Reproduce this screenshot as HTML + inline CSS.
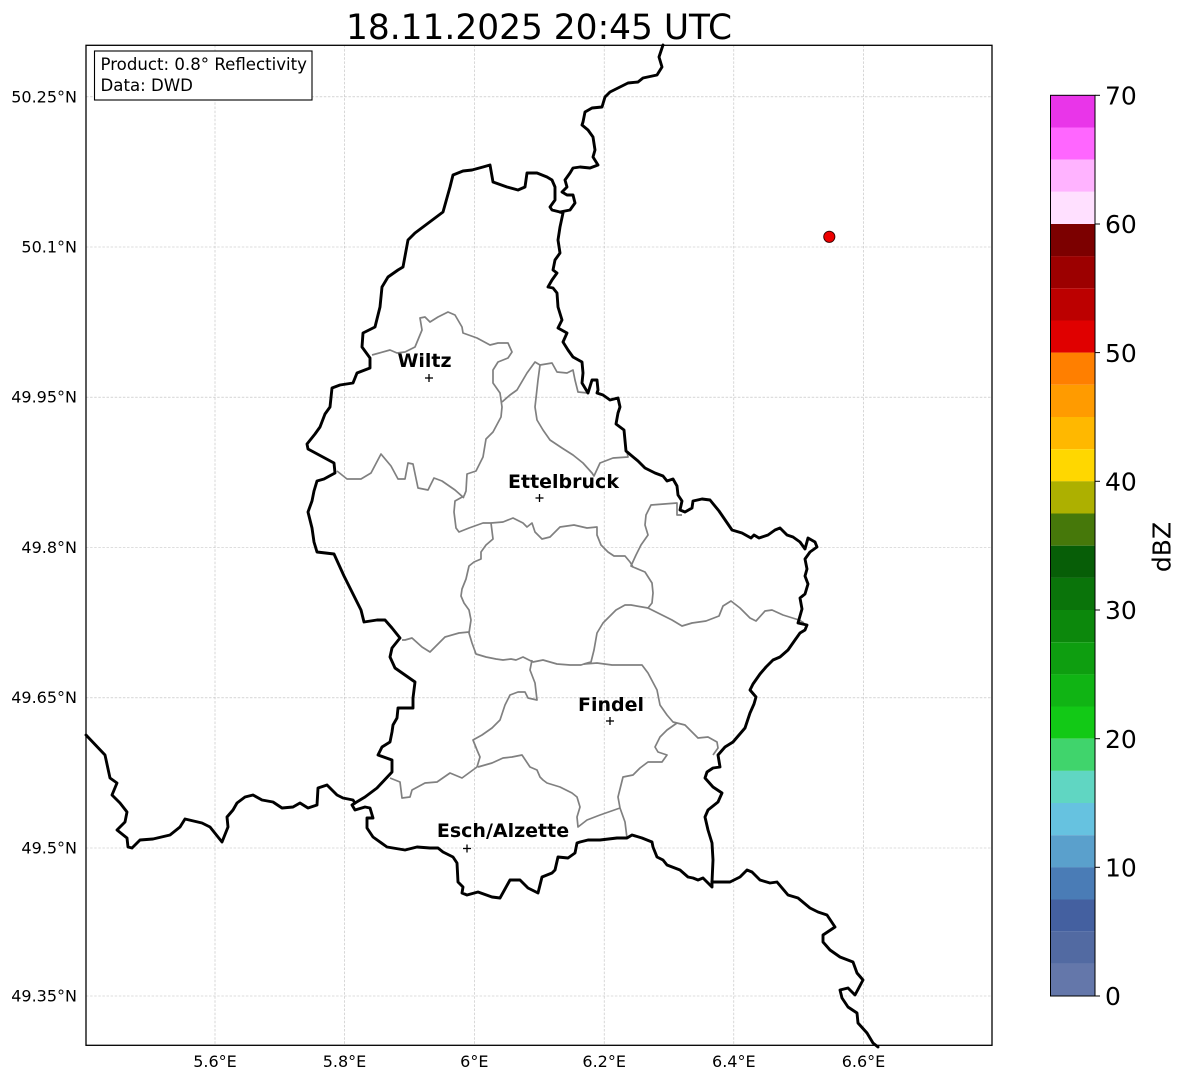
<!DOCTYPE html>
<html><head><meta charset="utf-8"><style>
html,body{margin:0;padding:0;background:#fff;}
svg{display:block;font-family:"DejaVu Sans","Liberation Sans",sans-serif;}
</style></head><body>
<svg width="1184" height="1081" viewBox="0 0 1184 1081" xmlns="http://www.w3.org/2000/svg">
<rect x="0" y="0" width="1184" height="1081" fill="#fff"/>
<!-- title -->
<text x="539" y="39" font-size="34.4" text-anchor="middle" fill="#000">18.11.2025 20:45 UTC</text>

<!-- gridlines -->
<g stroke="#bdbdbd" stroke-width="0.6" stroke-dasharray="2.5,1.6" fill="none">
<line x1="215" y1="45" x2="215" y2="1045"/>
<line x1="344.5" y1="45" x2="344.5" y2="1045"/>
<line x1="474.3" y1="45" x2="474.3" y2="1045"/>
<line x1="604.2" y1="45" x2="604.2" y2="1045"/>
<line x1="733.8" y1="45" x2="733.8" y2="1045"/>
<line x1="863.5" y1="45" x2="863.5" y2="1045"/>
<line x1="86" y1="96.8" x2="992" y2="96.8"/>
<line x1="86" y1="247" x2="992" y2="247"/>
<line x1="86" y1="397.2" x2="992" y2="397.2"/>
<line x1="86" y1="547.5" x2="992" y2="547.5"/>
<line x1="86" y1="697.8" x2="992" y2="697.8"/>
<line x1="86" y1="848" x2="992" y2="848"/>
<line x1="86" y1="996" x2="992" y2="996"/>
</g>

<!-- gray canton borders -->
<g stroke="#808080" stroke-width="1.7" fill="none" stroke-linejoin="round">
<path d="M372,355 L390,350 L397,353 L405,352 L415,347 L422,330 L420,318 L425,317 L430,322 L438,317 L448,312 L455,315 L462,327 L463,333 L477,338 L490,345 L498,343 L508,343 L512,352 L508,358 L498,362 L493,370 L493,383 L500,393 L502,407 L501,417 L493,432 L486,439 L483,457 L476,471 L467,474 L466,491 L464,496 L455,501 L454,512 L456,528 L459,532 L469,528 L483,523 L491,523 L503,522 L513,518 L523,523 L527,527 L532,523 L535,532 L542,539 L550,537 L560,527 L574,525 L587,528 L597,527 L597,535 L601,545 L608,552 L614,556 L625,556 L630,562 L633,567 L645,572 L652,583 L653,593 L652,603 L648,608 L652,610 L672,620 L682,626 L692,623 L706,621 L719,616 L723,606 L731,601 L740,608 L750,618 L756,621 L765,611 L772,610 L783,615 L799,620 L804,623"/>
<path d="M337,471 L347,479 L361,479 L371,473 L381,454 L391,466 L398,479 L405,479 L408,463 L413,464 L418,488 L428,490 L434,478 L442,481 L455,490 L464,498"/>
<path d="M502,402 L510,395 L517,390 L527,373 L535,362 L540,365 L552,363 L557,372 L567,373 L573,370 L575,380 L578,392 L588,393"/>
<path d="M540,365 L538,380 L535,407 L537,420 L543,430 L550,440 L562,448 L573,455 L583,463 L592,473 L594,476 L600,463 L613,458 L628,457 L627,452"/>
<path d="M682,515 L677,515 L677,503 L651,505 L646,515 L645,525 L648,535 L641,545 L636,555 L631,566 L633,567"/>
<path d="M491,523 L493,539 L486,545 L481,552 L481,559 L474,562 L469,566 L466,579 L462,589 L461,596 L464,603 L469,610 L471,620 L469,633 L472,643 L476,654 L486,657 L496,659 L503,660 L511,659 L516,660 L523,657 L533,662 L543,660 L557,664 L570,665 L581,665 L584,664 L591,662 L594,650 L597,633 L603,623 L608,618 L616,610 L625,605 L631,605 L648,608"/>
<path d="M402,640 L405,640 L412,638 L422,647 L430,652 L439,643 L445,637 L459,633 L469,632"/>
<path d="M532,660 L530,670 L535,683 L537,700 L528,698 L525,692 L518,692 L510,695 L505,705 L500,720 L492,728 L482,735 L473,740 L477,750 L480,757 L477,767 L462,778 L450,773 L437,782 L425,783 L412,790 L410,797 L402,798 L400,782 L390,778"/>
<path d="M584,664 L597,663 L612,665 L642,665 L648,673 L657,690 L660,705 L667,715 L673,722 L677,723 L685,725 L693,733 L698,738 L708,737 L717,742 L718,748 L713,755"/>
<path d="M677,723 L667,730 L660,737 L655,747 L658,752 L667,755 L662,762 L648,762 L640,768 L633,775 L623,777 L618,797 L620,808 L625,822 L627,838"/>
<path d="M620,808 L600,815 L587,820 L578,827 L577,817 L580,807 L577,797 L572,793 L560,787 L547,783 L543,780 L540,777 L537,770 L530,767 L522,755 L512,757 L503,758 L492,763 L478,767"/>
</g>

<!-- black country borders -->
<g stroke="#000" stroke-width="2.9" fill="none" stroke-linejoin="round" stroke-linecap="round">
<path d="M663,45 L659,57 L662,67 L657,75 L643,78 L638,82 L628,83 L620,87 L610,92 L605,97 L602,107 L592,108 L585,112 L583,122 L582,125 L588,130 L593,137 L595,150 L593,157 L598,165 L590,168 L580,167 L573,168 L570,173 L565,180 L567,187 L562,192 L567,195 L573,195 L575,203 L570,210 L560,212"/>
<path d="M560,212 L552,210 L550,207 L555,200 L555,187 L552,180 L547,177 L537,173 L527,173 L525,187 L518,190 L507,187 L493,182 L490,165 L483,167 L472,170 L463,171 L453,175 L450,187 L443,212 L415,233 L408,240 L403,267 L398,270 L388,277 L382,287 L380,307 L375,327 L363,333 L362,347 L370,358 L370,368 L357,373 L353,383 L340,385 L332,388 L330,407 L325,414 L320,427 L315,434 L307,444 L308,449 L334,463 L335,473 L324,479 L317,481 L314,491 L312,501 L308,512 L312,528 L314,542 L317,552 L334,554 L344,576 L361,610 L364,622 L377,620 L385,620 L392,628 L400,638 L392,648 L390,657 L395,668 L405,675 L415,682 L413,698 L413,708 L398,708 L397,718 L393,725 L392,732 L390,742 L382,747 L378,755 L392,760 L392,772 L377,788 L365,797 L355,803"/>
<path d="M560,212 L563,213 L560,227 L558,240 L560,253 L555,260 L553,270 L557,273 L552,280 L548,287 L553,288 L557,293 L558,307 L562,320 L558,328 L567,333 L563,342 L568,350 L573,357 L582,362 L583,373 L582,383 L588,393 L592,380 L597,380 L598,390 L597,393 L603,395 L610,400 L618,398 L620,407 L618,413 L616,424 L624,430 L626,451 L638,461 L645,468 L655,473 L663,476 L667,481 L673,479 L677,486 L678,495 L682,501 L680,510 L685,512 L692,508 L693,501 L702,499 L710,500 L719,511 L732,530 L742,533 L751,538 L754,535 L759,538 L768,535 L775,530 L780,528 L787,535 L793,537 L800,542 L805,549 L808,538 L815,542 L817,547 L810,552 L805,559 L807,569 L805,576 L808,584 L805,594 L800,598 L802,609 L800,616 L798,623 L807,625 L805,630 L800,633 L795,640 L788,650 L780,657 L773,660 L766,667 L760,674 L753,684 L750,690 L756,697 L754,704 L750,713 L745,728 L733,742 L725,747 L718,755 L720,767 L713,768 L707,772 L705,778 L713,787 L722,793 L718,802 L708,810 L705,817 L708,830 L712,843 L713,860 L712,882"/>
<path d="M712,882 L717,882 L730,882 L740,877 L747,870 L752,872 L760,880 L770,883 L777,882 L788,895 L798,898 L810,908 L818,912 L827,915 L835,927 L823,935 L823,942 L830,950 L840,957 L853,962 L857,973 L863,980 L855,995 L848,988 L840,990 L842,998 L848,1007 L857,1013 L858,1023 L867,1033 L873,1043 L878,1047"/>
<path d="M712,882 L712,887 L703,878 L698,880 L693,878 L688,877 L680,870 L667,865 L663,860 L657,857 L653,847 L652,842 L642,838 L632,835 L627,838 L617,838 L600,840 L588,840 L580,842 L577,843 L575,853 L568,858 L558,857 L555,870 L552,873 L542,877 L538,893 L528,888 L520,880 L510,880 L500,898 L492,897 L478,892 L467,895 L462,893 L463,887 L458,882 L457,863 L453,857 L443,852 L438,848 L430,848 L417,847 L405,850 L387,847 L373,837 L367,828 L367,818 L373,818 L370,808 L365,807 L355,810 L352,805 L355,803"/>
<path d="M355,803 L353,800 L343,798 L337,795 L327,785 L318,788 L317,805 L308,808 L300,803 L293,807 L282,808 L273,802 L262,800 L253,795 L245,797 L237,803 L233,810 L227,817 L228,827 L222,842 L210,827 L202,823 L185,819 L180,827 L170,835 L153,839 L140,840 L132,848 L128,847 L127,838 L117,830 L125,822 L127,812 L120,803 L112,795 L117,783 L110,778 L105,755 L86,735"/>
</g>

<!-- city markers -->
<g stroke="#000" stroke-width="1.3">
<line x1="425" y1="378" x2="433" y2="378"/><line x1="429" y1="374" x2="429" y2="382"/>
<line x1="535.5" y1="498" x2="543.5" y2="498"/><line x1="539.5" y1="494" x2="539.5" y2="502"/>
<line x1="606" y1="721" x2="614" y2="721"/><line x1="610" y1="717" x2="610" y2="725"/>
<line x1="463" y1="848.5" x2="471" y2="848.5"/><line x1="467" y1="844.5" x2="467" y2="852.5"/>
</g>
<g font-size="19" font-weight="bold" fill="#000" text-anchor="middle">
<text x="424.5" y="367">Wiltz</text>
<text x="563.5" y="488">Ettelbruck</text>
<text x="611" y="711">Findel</text>
<text x="503" y="837">Esch/Alzette</text>
</g>

<!-- radar dot -->
<circle cx="829.3" cy="236.8" r="5.6" fill="#ee0000" stroke="#300" stroke-width="0.9"/>

<!-- axes frame -->
<rect x="86" y="45.3" width="906" height="1000" fill="none" stroke="#000" stroke-width="1.3"/>

<!-- info box -->
<rect x="94.5" y="51" width="217.5" height="49" fill="#fff" stroke="#000" stroke-width="1.1"/>
<text x="100.5" y="70" font-size="16.6" fill="#000">Product: 0.8° Reflectivity</text>
<text x="100.5" y="91" font-size="16.6" fill="#000">Data: DWD</text>

<!-- y tick labels -->
<g font-size="16" fill="#000" text-anchor="end">
<text x="77" y="102.5">50.25°N</text>
<text x="77" y="252.5">50.1°N</text>
<text x="77" y="402.5">49.95°N</text>
<text x="77" y="553">49.8°N</text>
<text x="77" y="703">49.65°N</text>
<text x="77" y="853.5">49.5°N</text>
<text x="77" y="1001.5">49.35°N</text>
</g>
<!-- x tick labels -->
<g font-size="16" fill="#000" text-anchor="middle">
<text x="215" y="1067">5.6°E</text>
<text x="344.5" y="1067">5.8°E</text>
<text x="474.3" y="1067">6°E</text>
<text x="604.2" y="1067">6.2°E</text>
<text x="733.8" y="1067">6.4°E</text>
<text x="863.5" y="1067">6.6°E</text>
</g>

<!-- colorbar -->
<g>
<rect x="1050.5" y="95.3" width="44.5" height="32.2" fill="#e935e9"/>
<rect x="1050.5" y="127.5" width="44.5" height="32.2" fill="#ff66ff"/>
<rect x="1050.5" y="159.6" width="44.5" height="32.2" fill="#ffb3ff"/>
<rect x="1050.5" y="191.8" width="44.5" height="32.2" fill="#ffe0ff"/>
<rect x="1050.5" y="224.0" width="44.5" height="32.2" fill="#7c0000"/>
<rect x="1050.5" y="256.1" width="44.5" height="32.2" fill="#9c0000"/>
<rect x="1050.5" y="288.3" width="44.5" height="32.2" fill="#bc0000"/>
<rect x="1050.5" y="320.5" width="44.5" height="32.2" fill="#e00000"/>
<rect x="1050.5" y="352.6" width="44.5" height="32.2" fill="#ff7f00"/>
<rect x="1050.5" y="384.8" width="44.5" height="32.2" fill="#ff9b00"/>
<rect x="1050.5" y="417.0" width="44.5" height="32.2" fill="#ffb800"/>
<rect x="1050.5" y="449.2" width="44.5" height="32.2" fill="#ffd700"/>
<rect x="1050.5" y="481.3" width="44.5" height="32.2" fill="#adb000"/>
<rect x="1050.5" y="513.5" width="44.5" height="32.2" fill="#46780a"/>
<rect x="1050.5" y="545.7" width="44.5" height="32.2" fill="#075e07"/>
<rect x="1050.5" y="577.8" width="44.5" height="32.2" fill="#0a740a"/>
<rect x="1050.5" y="610.0" width="44.5" height="32.2" fill="#0c880c"/>
<rect x="1050.5" y="642.2" width="44.5" height="32.2" fill="#0e9e10"/>
<rect x="1050.5" y="674.3" width="44.5" height="32.2" fill="#10b414"/>
<rect x="1050.5" y="706.5" width="44.5" height="32.2" fill="#12c916"/>
<rect x="1050.5" y="738.7" width="44.5" height="32.2" fill="#40d46c"/>
<rect x="1050.5" y="770.8" width="44.5" height="32.2" fill="#60d6c2"/>
<rect x="1050.5" y="803.0" width="44.5" height="32.2" fill="#66c2e0"/>
<rect x="1050.5" y="835.2" width="44.5" height="32.2" fill="#5aa0cc"/>
<rect x="1050.5" y="867.3" width="44.5" height="32.2" fill="#4a7cb6"/>
<rect x="1050.5" y="899.5" width="44.5" height="32.2" fill="#4460a0"/>
<rect x="1050.5" y="931.7" width="44.5" height="32.2" fill="#526aa2"/>
<rect x="1050.5" y="963.8" width="44.5" height="32.2" fill="#6477aa"/>
<rect x="1050.5" y="95.3" width="44.5" height="900.7" fill="none" stroke="#000" stroke-width="1"/>
</g>
<g stroke="#000" stroke-width="1">
<line x1="1095" y1="95.3" x2="1100" y2="95.3"/>
<line x1="1095" y1="224" x2="1100" y2="224"/>
<line x1="1095" y1="352.6" x2="1100" y2="352.6"/>
<line x1="1095" y1="481.3" x2="1100" y2="481.3"/>
<line x1="1095" y1="610" x2="1100" y2="610"/>
<line x1="1095" y1="738.7" x2="1100" y2="738.7"/>
<line x1="1095" y1="867.3" x2="1100" y2="867.3"/>
<line x1="1095" y1="996" x2="1100" y2="996"/>
</g>
<g font-size="25" fill="#000">
<text x="1105" y="104.5">70</text>
<text x="1105" y="233">60</text>
<text x="1105" y="361.8">50</text>
<text x="1105" y="490.5">40</text>
<text x="1105" y="619">30</text>
<text x="1105" y="747.8">20</text>
<text x="1105" y="876.5">10</text>
<text x="1105" y="1005">0</text>
</g>
<text x="0" y="0" font-size="25" fill="#000" text-anchor="middle" transform="translate(1170.5,547) rotate(-90)">dBZ</text>
</svg>
</body></html>
